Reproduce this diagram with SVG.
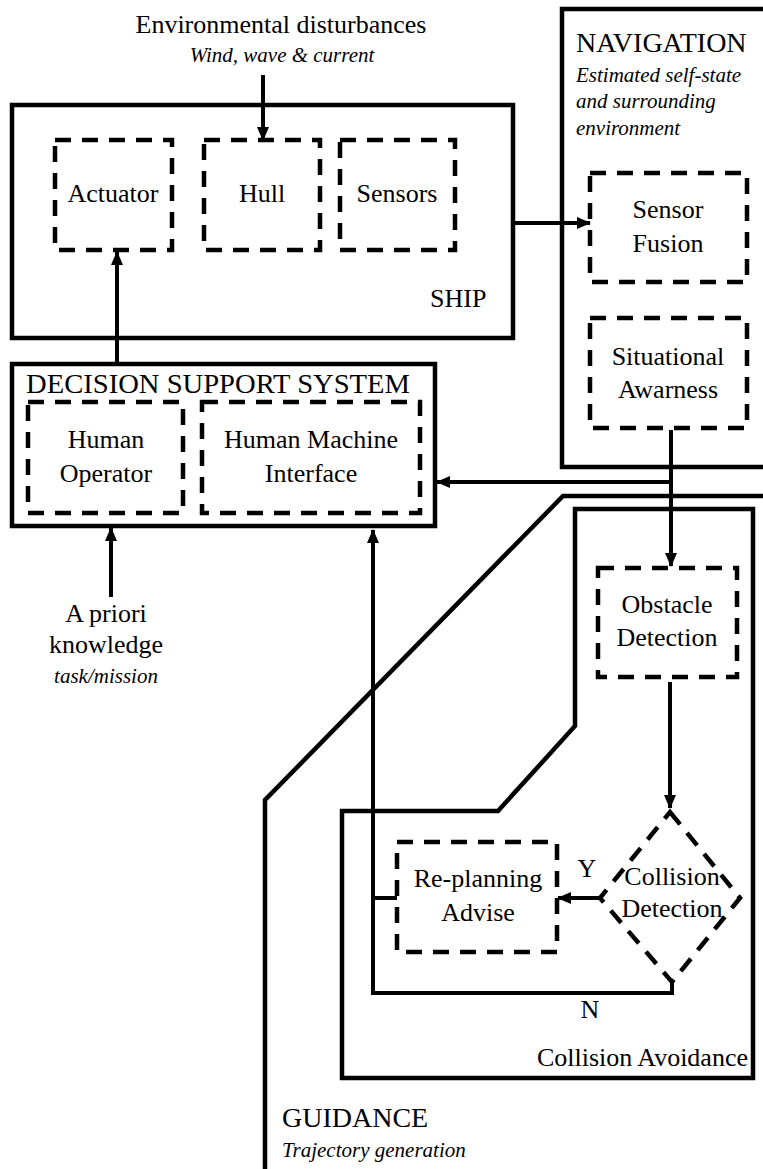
<svg xmlns="http://www.w3.org/2000/svg" width="763" height="1169" viewBox="0 0 763 1169">
<style>
.t{font-family:"Liberation Serif","Times New Roman",serif;font-size:26px;fill:#000}
.h{font-family:"Liberation Serif","Times New Roman",serif;font-size:28px;fill:#000}
.i{font-family:"Liberation Serif","Times New Roman",serif;font-size:21px;font-style:italic;fill:#000}
.c{text-anchor:middle}
.box{fill:none;stroke:#000;stroke-width:4.5}
.dash{fill:none;stroke:#000;stroke-width:4.5;stroke-dasharray:16 11}
.ln{fill:none;stroke:#000;stroke-width:4}
</style>
<defs>
<marker id="ah" markerUnits="userSpaceOnUse" markerWidth="14" markerHeight="14" viewBox="0 0 14 14" refX="13" refY="7" orient="auto">
<path d="M0,1 L14,7 L0,13 Z" fill="#000"/>
</marker>
</defs>
<rect width="763" height="1169" fill="#fff"/>

<g id="ship">
<rect class="box" x="12" y="105" width="501" height="233"/>
<text class="t" x="430" y="307">SHIP</text>
</g>
<g id="actuator">
<rect class="dash" x="55" y="140" width="117" height="110"/>
<text class="t c" x="113" y="202">Actuator</text>
</g>
<g id="hull">
<rect class="dash" x="204" y="140" width="116" height="110"/>
<text class="t c" x="262" y="202">Hull</text>
</g>
<g id="sensors">
<rect class="dash" x="340" y="140" width="115" height="110"/>
<text class="t c" x="397" y="202">Sensors</text>
</g>
<g id="env">
<text class="t c" x="281" y="33">Environmental disturbances</text>
<text class="i c" x="282" y="62">Wind, wave &amp; current</text>
</g>

<g id="navigation">
<path class="box" d="M775,9 L562,9 L562,467 L775,467"/>
<text class="h" x="576" y="52">NAVIGATION</text>
<text class="i" x="576" y="82">Estimated self-state</text>
<text class="i" x="576" y="108">and surrounding</text>
<text class="i" x="576" y="135">environment</text>
</g>
<g id="sensorfusion">
<rect class="dash" x="590" y="173" width="157" height="109"/>
<text class="t c" x="668" y="218">Sensor</text>
<text class="t c" x="668" y="252">Fusion</text>
</g>
<g id="situational">
<rect class="dash" x="590" y="318" width="157" height="110"/>
<text class="t c" x="668" y="365">Situational</text>
<text class="t c" x="668" y="398">Awarness</text>
</g>

<g id="dss">
<rect class="box" x="12" y="364" width="423" height="162"/>
<text class="h" x="26" y="393" textLength="384" lengthAdjust="spacingAndGlyphs">DECISION SUPPORT SYSTEM</text>
</g>
<g id="humanoperator">
<rect class="dash" x="28" y="402" width="155" height="111"/>
<text class="t c" x="106" y="448">Human</text>
<text class="t c" x="106" y="482">Operator</text>
</g>
<g id="hmi">
<rect class="dash" x="202" y="402" width="218" height="111"/>
<text class="t c" x="311" y="448">Human Machine</text>
<text class="t c" x="311" y="482">Interface</text>
</g>
<g id="apriori">
<text class="t c" x="106" y="622">A priori</text>
<text class="t c" x="106" y="653">knowledge</text>
<text class="i c" x="106" y="683">task/mission</text>
</g>

<g id="guidance">
<path class="box" d="M775,496 L563,496 L265,800 L265,1175"/>
<text class="h" x="282" y="1127">GUIDANCE</text>
<text class="i" x="282" y="1157">Trajectory generation</text>
</g>
<g id="collisionavoidance">
<path class="box" d="M575,509 L753,509 L753,1078 L342,1078 L342,811 L498,811 L575,726 Z"/>
<text class="t" x="748" y="1066" text-anchor="end">Collision Avoidance</text>
</g>
<g id="obstacle">
<rect class="dash" x="598" y="568" width="139" height="109"/>
<text class="t c" x="667" y="613">Obstacle</text>
<text class="t c" x="667" y="646">Detection</text>
</g>
<g id="collisiondetection">
<path class="dash" d="M670,812 L740,898 L672,982 L600,898 Z"/>
<text class="t c" x="672" y="885">Collision</text>
<text class="t c" x="672" y="917">Detection</text>
</g>
<g id="replanning">
<rect class="dash" x="397" y="842" width="160" height="110"/>
<text class="t c" x="478" y="887">Re-planning</text>
<text class="t c" x="478" y="921">Advise</text>
</g>

<g id="connectors">
<line class="ln" x1="263" y1="75" x2="263" y2="140" marker-end="url(#ah)"/>
<line class="ln" x1="117" y1="364" x2="117" y2="252" marker-end="url(#ah)"/>
<line class="ln" x1="513" y1="223" x2="590" y2="223" marker-end="url(#ah)"/>
<line class="ln" x1="671" y1="430" x2="671" y2="566" marker-end="url(#ah)"/>
<line class="ln" x1="671" y1="482" x2="437" y2="482" marker-end="url(#ah)"/>
<line class="ln" x1="111" y1="597" x2="111" y2="528" marker-end="url(#ah)"/>
<line class="ln" x1="670" y1="682" x2="670" y2="808" marker-end="url(#ah)"/>
<line class="ln" x1="600" y1="898" x2="558" y2="898" marker-end="url(#ah)"/>
<path class="ln" d="M672,982 L672,993 L373,993 L373,530" marker-end="url(#ah)"/>
<line class="ln" x1="373" y1="898" x2="397" y2="898"/>
<text class="t c" x="587" y="877">Y</text>
<text class="t c" x="590" y="1018">N</text>
</g>
</svg>
